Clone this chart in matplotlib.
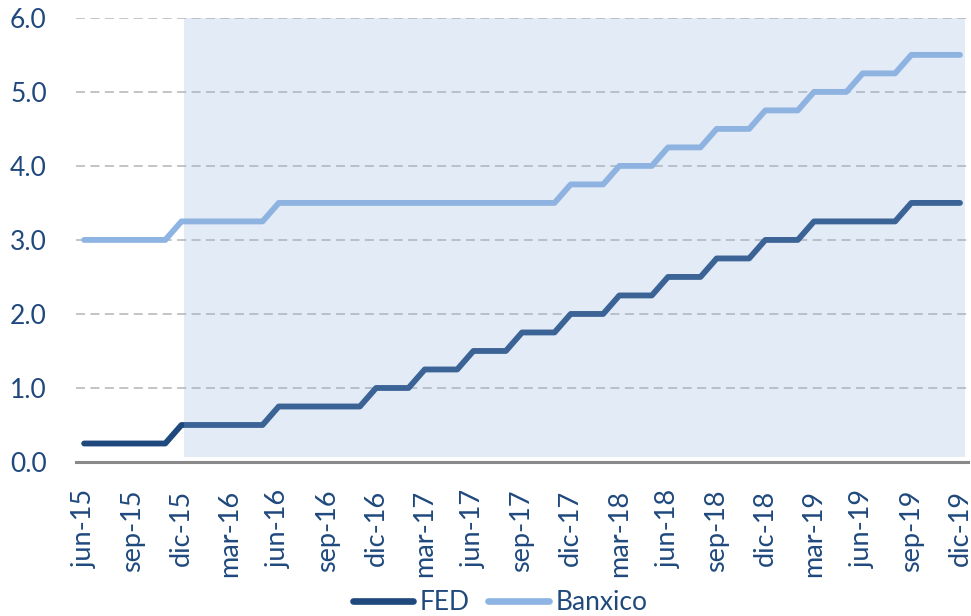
import matplotlib
matplotlib.use("Agg")
import matplotlib.pyplot as plt
from matplotlib.patches import Rectangle

# ---- data ----
months = ["jun-15", "jul-15", "ago-15", "sep-15", "oct-15", "nov-15", "dic-15",
          "ene-16", "feb-16", "mar-16", "abr-16", "may-16", "jun-16", "jul-16",
          "ago-16", "sep-16", "oct-16", "nov-16", "dic-16", "ene-17", "feb-17",
          "mar-17", "abr-17", "may-17", "jun-17", "jul-17", "ago-17", "sep-17",
          "oct-17", "nov-17", "dic-17", "ene-18", "feb-18", "mar-18", "abr-18",
          "may-18", "jun-18", "jul-18", "ago-18", "sep-18", "oct-18", "nov-18",
          "dic-18", "ene-19", "feb-19", "mar-19", "abr-19", "may-19", "jun-19",
          "jul-19", "ago-19", "sep-19", "oct-19", "nov-19", "dic-19"]

fed = ([0.25] * 6 + [0.50] * 6 + [0.75] * 6 + [1.00] * 3 + [1.25] * 3 +
       [1.50] * 3 + [1.75] * 3 + [2.00] * 3 + [2.25] * 3 + [2.50] * 3 +
       [2.75] * 3 + [3.00] * 3 + [3.25] * 6 + [3.50] * 4)

banxico = ([3.00] * 6 + [3.25] * 6 + [3.50] * 18 + [3.75] * 3 + [4.00] * 3 +
           [4.25] * 3 + [4.50] * 3 + [4.75] * 3 + [5.00] * 3 + [5.25] * 3 +
           [5.50] * 4)

yticks = [0.0, 1.0, 2.0, 3.0, 4.0, 5.0, 6.0]
tick_step = 3

# shaded (forecast) region, in category units
shade_start, shade_end = 6.15, 54.3
shade_low, shade_high = 0.07, 6.0

# ---- style ----
text_color = "#1F497D"
fed_color = "#1F497D"
banxico_color = "#8DB4E2"
plt.rcParams["font.family"] = ["Lato", "DejaVu Sans"]

fig = plt.figure(figsize=(9.71, 6.16), dpi=100)
ax = fig.add_axes([0.0783, 0.25, 0.9187, 0.721])

x = list(range(len(months)))
ax.plot(x, fed, color=fed_color, lw=4.2, solid_capstyle="round",
        solid_joinstyle="round", label="FED", zorder=3)
ax.plot(x, banxico, color=banxico_color, lw=4.2, solid_capstyle="round",
        solid_joinstyle="round", label="Banxico", zorder=3)

# translucent shading drawn on top of the lines
ax.add_patch(Rectangle((shade_start, shade_low), shade_end - shade_start,
                       shade_high - shade_low, facecolor="#91B2DE",
                       alpha=0.25, edgecolor="none", zorder=4))

ax.set_xlim(-0.5, len(months) - 0.5)
ax.set_ylim(0, 6)
ax.set_yticks(yticks)
ax.set_yticklabels([f"{v:.1f}" for v in yticks])
ax.set_xticks(x[::tick_step])
ax.set_xticklabels(months[::tick_step], rotation=90)

for v in yticks[1:]:
    ax.axhline(v, color="#BFBFBF", lw=1.3, ls=(0, (5, 3)), zorder=1)

for s in ["top", "right", "left"]:
    ax.spines[s].set_visible(False)
ax.spines["bottom"].set_color("#898989")
ax.spines["bottom"].set_linewidth(2.2)
ax.spines["bottom"].set_zorder(5)

ax.tick_params(axis="both", length=0, colors=text_color)
ax.tick_params(axis="y", pad=21, labelsize=19)
ax.tick_params(axis="x", pad=20, labelsize=19.5)

leg = fig.legend(loc="center", bbox_to_anchor=(0.515, 0.022), ncol=2,
                 frameon=False, fontsize=19, handlelength=2.3,
                 handletextpad=0.25, columnspacing=0.7)
for line in leg.get_lines():
    line.set_linewidth(4.8)
    line.set_solid_capstyle("round")
for t in leg.get_texts():
    t.set_color(text_color)

fig.savefig("out.png", dpi=100)
